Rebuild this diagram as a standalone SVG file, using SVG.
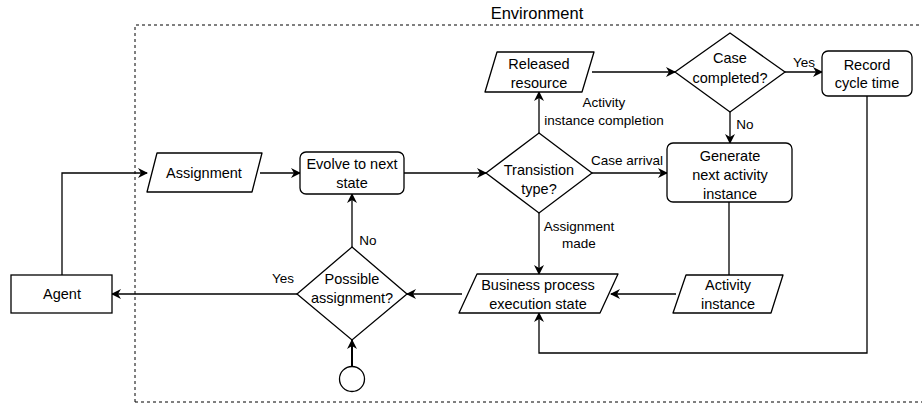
<svg xmlns="http://www.w3.org/2000/svg" width="922" height="404" viewBox="0 0 922 404">
<defs>
<style>
.n{fill:#fff;stroke:#000;stroke-width:1.3}
.t{font-family:"Liberation Sans",Arial,sans-serif;font-size:14.5px;fill:#000;text-anchor:middle}
.l{font-family:"Liberation Sans",Arial,sans-serif;font-size:13.5px;fill:#000;text-anchor:middle}
.c{fill:none;stroke:#000;stroke-width:1.3}
</style>
<marker id="a" viewBox="0 0 10 10" refX="9" refY="5" markerWidth="10" markerHeight="10" markerUnits="userSpaceOnUse" orient="auto">
<path d="M0,0 L10,5 L0,10 L3,5 Z" fill="#000"/>
</marker>
</defs>
<rect width="922" height="404" fill="#fff"/>
<g id="environment">
<path d="M135,402 L135,25 L930,25 M135,402 L930,402" fill="none" stroke="#000" stroke-width="1" stroke-dasharray="3,3"/>
<text class="t" x="537" y="19" style="font-size:16.5px">Environment</text>
</g>
<g id="connectors">
<path class="c" d="M62,275 L62,173 L147,173" marker-end="url(#a)"/>
<path class="c" d="M260,173 L300,173" marker-end="url(#a)"/>
<path class="c" d="M404,173 L486,173" marker-end="url(#a)"/>
<path class="c" d="M539,133 L539,92" marker-end="url(#a)"/>
<path class="c" d="M592,72 L675,72" marker-end="url(#a)"/>
<path class="c" d="M785,72 L822,72" marker-end="url(#a)"/>
<path class="c" d="M730,112 L730,143" marker-end="url(#a)"/>
<path class="c" d="M592,173 L667,173" marker-end="url(#a)"/>
<path class="c" d="M539,213 L539,274" marker-end="url(#a)"/>
<path class="c" d="M729,202 L729,275"/>
<path class="c" d="M676,294 L611,294" marker-end="url(#a)"/>
<path class="c" d="M867,96 L867,353 L539,353 L539,313" marker-end="url(#a)"/>
<path class="c" d="M462,294 L407,294" marker-end="url(#a)"/>
<path class="c" d="M297,294 L112,294" marker-end="url(#a)"/>
<path class="c" d="M352,247 L352,194" marker-end="url(#a)"/>
<path class="c" d="M352,366 L352,340" style="stroke-width:2" marker-end="url(#a)"/>
<text class="l" x="604" y="107">Activity</text>
<text class="l" x="604" y="125">instance completion</text>
<text class="l" x="627" y="165">Case arrival</text>
<text class="l" x="579" y="231">Assignment</text>
<text class="l" x="579" y="248">made</text>
<text class="l" x="804" y="67">Yes</text>
<text class="l" x="745" y="129">No</text>
<text class="l" x="283" y="283">Yes</text>
<text class="l" x="368" y="245">No</text>
</g>
<g id="agent">
<rect class="n" x="11" y="275" width="101" height="38"/>
<text class="t" x="62" y="299">Agent</text>
</g>
<g id="assignment">
<path class="n" d="M157,153 L262,153 L252,192 L147,192 Z" stroke-linejoin="round"/>
<text class="t" x="204" y="178">Assignment</text>
</g>
<g id="evolve">
<rect class="n" x="300" y="152" width="104" height="42" rx="6"/>
<text class="t" x="352" y="169">Evolve to next</text>
<text class="t" x="352" y="188">state</text>
</g>
<g id="transition">
<path class="n" d="M539,133 L592,173 L539,213 L486,173 Z"/>
<text class="t" x="539" y="175">Transistion</text>
<text class="t" x="539" y="194">type?</text>
</g>
<g id="released">
<path class="n" d="M497,52 L594,52 L582,92 L485,92 Z" stroke-linejoin="round"/>
<text class="t" x="539" y="69">Released</text>
<text class="t" x="539" y="88">resource</text>
</g>
<g id="case-completed">
<path class="n" d="M730,33 L785,72 L730,112 L675,72 Z"/>
<text class="t" x="730" y="63">Case</text>
<text class="t" x="730" y="83">completed?</text>
</g>
<g id="record">
<rect class="n" x="822" y="51" width="90" height="45" rx="6"/>
<text class="t" x="867" y="70">Record</text>
<text class="t" x="867" y="88">cycle time</text>
</g>
<g id="generate">
<rect class="n" x="667" y="143" width="125" height="59" rx="6"/>
<text class="t" x="730" y="161">Generate</text>
<text class="t" x="730" y="180">next activity</text>
<text class="t" x="730" y="199">instance</text>
</g>
<g id="activity-instance">
<path class="n" d="M686,275 L783,275 L771,313 L673,313 Z" stroke-linejoin="round"/>
<text class="t" x="728" y="290">Activity</text>
<text class="t" x="728" y="309">instance</text>
</g>
<g id="business">
<path class="n" d="M477,274 L618,274 L600,313 L459,313 Z" stroke-linejoin="round"/>
<text class="t" x="538" y="290">Business process</text>
<text class="t" x="538" y="309">execution state</text>
</g>
<g id="possible">
<path class="n" d="M352,247 L407,294 L352,340 L297,294 Z"/>
<text class="t" x="352" y="284">Possible</text>
<text class="t" x="352" y="303">assignment?</text>
</g>
<g id="start">
<circle class="n" cx="352" cy="379" r="12.5"/>
</g>
</svg>
